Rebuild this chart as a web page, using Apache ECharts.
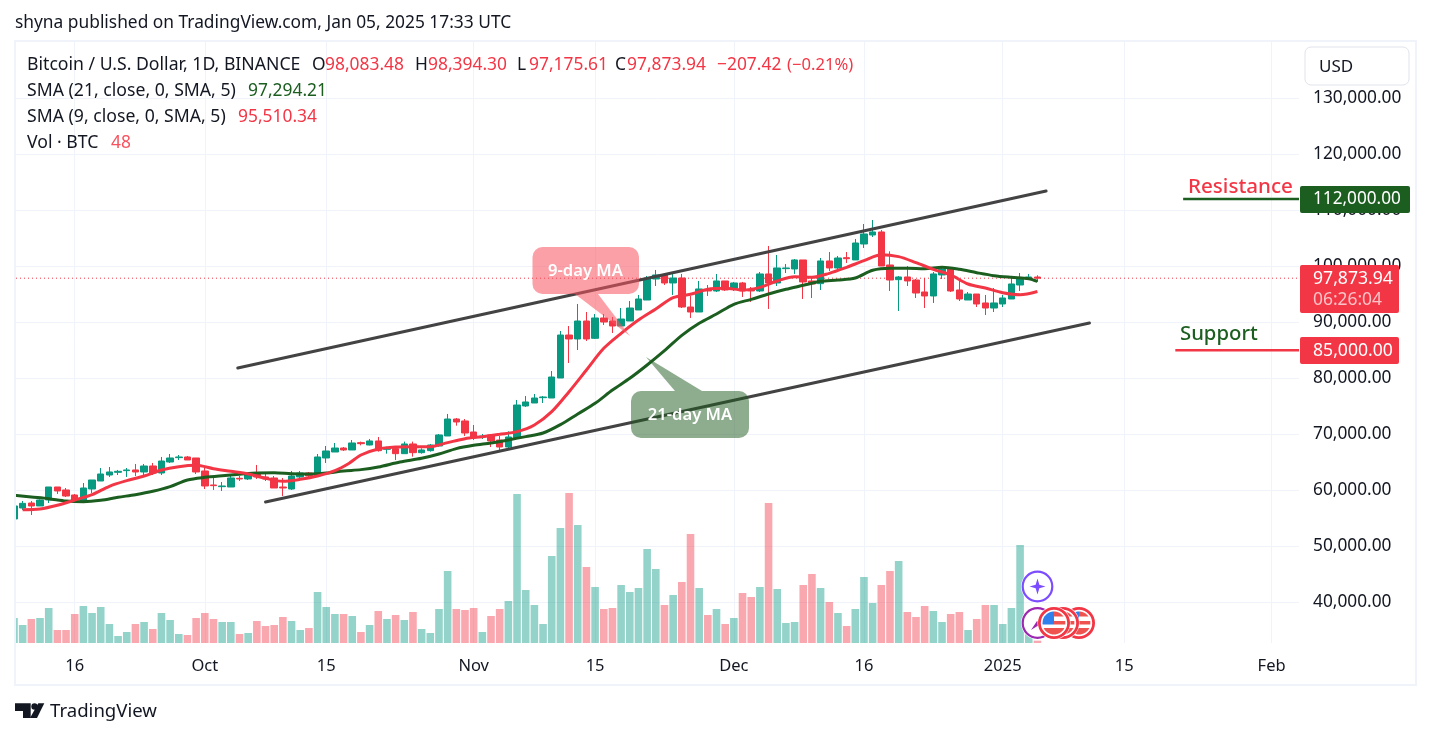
<!DOCTYPE html>
<html>
<head>
<meta charset="utf-8">
<style>html,body{margin:0;padding:0;background:#fff}#c{width:1431px;height:738px}</style>
<script src="https://cdn.jsdelivr.net/npm/echarts@6/dist/echarts.min.js"></script>
</head>
<body>
<div id="c"></div>
<script>
// One entry per trading day starting 2024-09-09: [open, close, low, high]
const candles = [
[54880,57200,54600,58100],[56840,57670,56480,58090],[57730,57200,55590,58090],[57200,58270,57200,58390],[58270,60590,57730,60590],[60590,59880,59340,60590],[60060,58980,58800,60410],
[59160,58090,57730,59340],[58090,60410,57730,61300],[60230,61840,59520,61840],[61660,62910,61660,63980],[62730,63270,62380,64160],[63210,63390,62730,63630],[63510,63630,62380,63980],
[63630,63270,62550,64700],[63270,64340,62730,64700],[64340,63090,62730,64880],[63090,65230,62730,65950],[65050,65770,64880,66480],[65830,65950,65410,66300],[65950,65410,65410,66130],[65770,63270,62910,65770],
[63450,60770,60230,63980],[60950,60830,60060,62550],[60650,60770,59880,61480],[60590,62200,60590,62550],[62140,62020,61660,62550],[62020,62910,61840,63090],[62910,62380,62020,64520],
[62380,62020,61660,63270],[62200,60410,60410,62550],[60590,60410,58980,62200],[60230,62550,60060,63450],[62380,63090,62200,63450],[63090,62550,62020,63270],[62550,65950,62550,66480],
[65770,67020,64880,67910],[66840,67550,66840,68450],[67550,67200,67020,67730],[67200,68450,67200,68980],[68510,68330,68030,68690],[68090,68810,68030,69160],[68810,67080,66900,69520],
[67320,67440,66540,67790],[67440,66540,65410,67790],[66540,68270,66540,68690],[68270,66720,66010,68690],[66720,67200,66540,67500],[67080,68090,66900,68270],[67910,69880,67790,70060],
[69700,72730,69700,73630],[72730,72200,71540,72910],[72380,70230,69700,72730],
[70410,69340,68980,71660],[69520,69700,69160,70060],[69880,68810,67730,70060],[68980,67730,67080,69700],[67730,69520,67560,70530],[69340,75230,69340,76130],[75060,75770,74880,76840],
[75590,76480,75590,77200],[76540,76660,75590,76840],[76480,80230,76480,81300],[80050,87730,80050,88450],[87730,87020,82730,89340],[87020,90230,85050,93270],[90230,87020,86660,91840],
[87140,90770,87020,91480],[90770,90050,89520,91480],[90230,89340,88090,90950],[89340,90590,89340,92550],[90230,92550,90230,93800],[92200,94160,92200,94880],[93980,97850,93980,98270],
[97730,98450,96480,99340],[98450,97020,96660,98630],[97020,97910,94880,98630],[97910,92730,92550,98630],[92730,91840,90770,94700],[91840,95950,91840,97380],[95890,95590,94700,96660],
[95590,97380,95410,98630],[97380,95770,95590,97380],
[96130,97020,95590,97200],[97020,95590,94520,97200],[95770,95590,93630,96300],[95590,98630,95410,98980],[98630,97020,92380,103630],[97020,99700,96480,102020],[99580,99700,98800,100410],
[99520,101130,98630,101300],[101130,97200,94160,101130],[97380,96840,94340,98090],[96900,100950,95770,101480],[100950,99700,99160,102550],[99700,101480,99160,101840],[101540,101360,100590,102550],
[101130,104160,101130,104880],[103980,105770,103270,107550],[105590,106130,105230,108270],[106130,100050,100050,106480],[100230,97550,95590,102670],[97610,98090,92020,98270],[98090,97380,96480,100050],
[97550,95230,94340,97730],[95410,94700,92550,97910],[94700,98630,93450,98980],[98450,99520,97730,99700],[99520,95590,95410,99880],[95770,94160,93800,97550],[93980,95050,93980,95410],
[95050,93270,92730,95050],[93450,92550,91300,94880],[92550,93450,91840,96130],
[93270,94340,92730,94880],[94160,96840,94160,97910],[96660,97910,95590,98800],[97730,98090,97550,98630],[98083.48,97873.94,97175.61,98394.30]
];
// Volume per day (same day order as candles)
const volumes = [
15000,10800,14400,15000,21000,7800,7800,17400,22200,18000,21600,11400,4200,6600,11400,12600,8400,18000,13800,5400,4800,15000,
18000,14400,12600,12600,5400,6000,13200,10200,10800,15600,13200,7800,9000,30600,21600,17400,17400,16200,6600,10800,19200,14400,16800,13800,18600,8400,6000,20400,43200,20400,19800,
21000,6600,16200,20400,25200,89400,31800,22800,11400,52200,69000,90000,70800,45600,33600,20400,21000,34800,30600,33000,56400,44400,22800,28800,36600,65400,33000,16800,20400,11400,
15000,30000,27600,33600,84000,32400,12000,12600,34800,41400,33000,24600,18000,10200,20400,39600,24000,34800,43200,49200,18600,15600,22200,19200,12600,17400,18600,7800,14400,22800,22800,
11400,21000,58800,9000,1400
];
// [day index, value]
const sma9 = [[1,56540],[3,56660],[5,57320],[7,58270],[9,59220],[11,60710],[13,61720],[15,62550],[17,63630],[19,64220],[21,64460],[23,63860],[25,63390],[27,62910],[29,62140],[31,61600],[33,61960],[35,62550],[37,63510],[38.6,64800],[40,66300],[42,67380],[44,67730],[46,67790],[48,67790],[50,68510],[52,69220],[54,69580],[56,70000],[58,70470],[60,71660],[62,74040],[64,77610],[66,81480],[68,85350],[70,88030],[72,90410],[74,92370],[76,94400],[78,95000],[80,95900],[82,96070],[84,95770],[86,96240],[88,97380],[90,98150],[92,98030],[94,98740],[96,99810],[98,101010],[100,102080],[102,101720],[104,100650],[106,99460],[108,98450],[110,96840],[112,96120],[114,95290],[116,94930],[118,95510.34]];
const sma21 = [[0,59100],[2,58800],[4,58510],[6,58090],[8,57970],[10,58210],[12,58750],[14,59220],[16,59820],[18,60650],[20,61840],[22,62320],[24,62610],[26,62850],[28,63090],[30,63150],[32,62970],[34,62910],[36,63090],[38,63450],[40,63690],[42,64160],[44.5,65050],[47,65710],[49,66480],[51,67440],[53,68030],[55,68450],[57,68980],[59,69580],[61,70230],[63,71720],[65,73630],[67,75530],[69,77910],[71,80000],[73,82380],[75,84930],[77,87670],[79,89820],[81,91480],[83,93210],[85,94100],[87,95050],[89,95890],[91,96600],[93,97320],[95,97550],[97,97910],[99,99280],[101,99640],[103,99640],[105,99580],[107,99810],[109,99460],[111,98860],[113,98330],[115,98030],[117,97790],[118,97294.21]];
const upperChannel = [[25.8,81840],[119,113450]];
const lowerChannel = [[29,57910],[124,89880]];
const lastPrice = 97873.94, resistance = 112000, support = 85000;
const yTicks = [40000,50000,60000,70000,80000,90000,100000,110000,120000,130000];
const xTickDays = [7,22,36,53,67,83,98,114,128,145];
const xTickLabels = ['16','Oct','15','Nov','15','Dec','16','2025','15','Feb'];

const UP='#089981', DOWN='#f23645', GREEN='#1b5e20', GRID='#f0f3fa', INK='#131722';
const FF='"Noto Sans"';
const ohlcData = candles.map((c,i)=>[i,c[0],c[1],c[2],c[3]]);
const volData = volumes.map((v,i)=>[i,v]);

const X_MIN=0.2306, X_MAX=148.16, Y_MIN=32732, Y_MAX=140050;

function T(x,y,text,fill,size,extra){
  return {type:'text',z:200,silent:true,style:Object.assign({x:x,y:y+1,text:text,fill:fill,font:(size||17.4)+'px '+FF,verticalAlign:'middle',align:'left'},extra||{})};
}
function arc(r,a0,a1){
  const pts=[];
  for(let k=0;k<=16;k++){const a=(a0+(a1-a0)*k/16)*Math.PI/180;pts.push([r*Math.cos(a),r*Math.sin(a)]);}
  return pts;
}
function flag(cx,cy,z){
  const R=11.5, red='#ef5350';
  const s=Math.asin(5/R)*180/Math.PI;
  return {type:'group',x:cx,y:cy,z:z,silent:true,children:[
    {type:'circle',z:z,shape:{cx:0,cy:0,r:16.5},style:{fill:'#fff'}},
    {type:'circle',z:z,shape:{cx:0,cy:0,r:14.6},style:{fill:'#fff',stroke:DOWN,lineWidth:2.8}},
    {type:'polygon',z:z,shape:{points:arc(R,s,180-s)},style:{fill:red}},
    {type:'rect',z:z,shape:{x:0,y:-2,width:11.3,height:3.5},style:{fill:red}},
    {type:'polygon',z:z,shape:{points:[[0,-6.5]].concat(arc(R,-90,-34))},style:{fill:red}},
    {type:'polygon',z:z,shape:{points:[[0,1.5]].concat(arc(R,173,270))},style:{fill:'#2f80ed'}}
  ]};
}
function star(cx,cy){
  const p=[];const o=8,i=2.6;
  for(let k=0;k<8;k++){const r=k%2?i:o;const a=k*Math.PI/4;p.push([cx+r*Math.sin(a),cy-r*Math.cos(a)]);}
  return p;
}

const graphics = [
  // left margin mask so the first, partly off-screen day is cut at the pane edge
  {type:'rect',z:100,silent:true,shape:{x:0,y:42,width:15.5,height:601},style:{fill:'#fff'}},
  // frame and header
  {type:'rect',z:101,silent:true,shape:{x:15,y:41,width:1401,height:644},style:{fill:'none',stroke:'#f0f3fa',lineWidth:2}},
  T(15,22,'shyna published on TradingView.com, Jan 05, 2025 17:33 UTC',INK,17.35),
  T(27,64,'Bitcoin / U.S. Dollar, 1D, BINANCE',INK,17.65),
  T(312,64,'O',INK),T(325,64,'98,083.48',DOWN),
  T(415,64,'H',INK),T(428,64,'98,394.30',DOWN),
  T(517,64,'L',INK),T(529,64,'97,175.61',DOWN),
  T(615,64,'C',INK),T(627,64,'97,873.94',DOWN),
  T(717,64,'−207.42',DOWN),T(787,64,'(−0.21%)',DOWN,16.6),
  T(27,90,'SMA (21, close, 0, SMA, 5)',INK,17.65),T(248,90,'97,294.21',GREEN),
  T(27,116,'SMA (9, close, 0, SMA, 5)',INK,17.65),T(238,116,'95,510.34',DOWN),
  T(27,142,'Vol · BTC',INK,17.65),T(111,142,'48','#f7525f'),
  // currency button
  {type:'rect',z:200,silent:true,shape:{x:1305,y:47,width:104,height:38,r:6},style:{fill:'#fff',stroke:'#e0e3eb',lineWidth:1}},
  T(1319,66,'USD',INK,17),
  // callouts
  {type:'polygon',z:150,silent:true,shape:{points:[[575,294],[598,294],[630,336]]},style:{fill:'rgba(247,82,95,0.55)'}},
  {type:'rect',z:150,silent:true,shape:{x:532.5,y:247,width:106.5,height:47,r:10},style:{fill:'rgba(247,82,95,0.55)'}},
  T(585.5,270,'9-day MA','#fff',17,{align:'center',font:'600 16.6px '+FF}),
  {type:'polygon',z:150,silent:true,shape:{points:[[646,357],[675,391],[702,391]]},style:{fill:'rgba(30,90,30,0.5)'}},
  {type:'rect',z:150,silent:true,shape:{x:631,y:391,width:118,height:47,r:10},style:{fill:'rgba(30,90,30,0.5)'}},
  T(690,414,'21-day MA','#fff',17,{align:'center',font:'600 16.6px '+FF}),
  // level annotations
  T(1188,186,'Resistance',DOWN,20.6,{font:'500 20.6px '+FF}),
  T(1180,333,'Support',GREEN,20.3,{font:'500 20.3px '+FF}),
  {type:'rect',z:190,silent:true,shape:{x:1300,y:186,width:110,height:27,r:2},style:{fill:GREEN}},
  T(1313,198.5,'112,000.00','#fff',17.2),
  {type:'rect',z:190,silent:true,shape:{x:1300,y:265,width:99,height:48,r:2},style:{fill:DOWN}},
  T(1313,278,'97,873.94','#fff',17.6),
  T(1313,299,'06:26:04','rgba(255,255,255,0.7)',17.4),
  {type:'rect',z:190,silent:true,shape:{x:1300,y:337,width:99,height:27,r:2},style:{fill:DOWN}},
  T(1313,349.5,'85,000.00','#fff',17.6),
  // logo
  {type:'polygon',z:200,silent:true,shape:{points:[[15,703.3],[30.7,703.3],[30.7,718],[23,718],[23,711],[15,711]]},style:{fill:INK}},
  {type:'circle',z:200,silent:true,shape:{cx:34.5,cy:706.5,r:3.2},style:{fill:INK}},
  {type:'polygon',z:200,silent:true,shape:{points:[[38.3,703.3],[44.3,703.3],[37,718],[30,718]]},style:{fill:INK}},
  T(50,711,'TradingView',INK,18.6),
  // event badges
  {type:'circle',z:160,silent:true,shape:{cx:1037.5,cy:586.5,r:16.5},style:{fill:'#fff'}},
  {type:'circle',z:161,silent:true,shape:{cx:1037.5,cy:586.5,r:14.8},style:{fill:'#fff',stroke:'#7c4dff',lineWidth:2.2}},
  {type:'polygon',z:161,silent:true,shape:{points:star(1037.5,586.5)},style:{fill:'#7c4dff'}},
  {type:'circle',z:160,silent:true,shape:{cx:1037.5,cy:623,r:16.5},style:{fill:'#fff'}},
  {type:'circle',z:161,silent:true,shape:{cx:1037.5,cy:623,r:14.8},style:{fill:'#fff',stroke:'#9c27b0',lineWidth:2.2}},
  {type:'polygon',z:161,silent:true,shape:{points:[[1031,630],[1037,621],[1040,623],[1045,616],[1043,627],[1039,625]]},style:{fill:'#9c27b0'}},
  flag(1079,623,162),flag(1063,623,163),flag(1054,623,164)
];

const chart = echarts.init(document.getElementById('c'),null,{renderer:'canvas'});
chart.setOption({
  animation:false,
  backgroundColor:'#ffffff',
  grid:[
    {left:16,right:132,top:42,bottom:95},
    {left:16,right:132,top:443,height:200}
  ],
  xAxis:[
    {type:'value',gridIndex:0,min:X_MIN,max:X_MAX,
     axisLine:{show:false},axisTick:{show:false,customValues:xTickDays},
     splitLine:{show:true,lineStyle:{color:GRID,width:1}},
     axisLabel:{show:true,customValues:xTickDays,margin:15,color:INK,fontFamily:FF,fontSize:16.5,
       formatter:v=>xTickLabels[xTickDays.indexOf(v)]}},
    {type:'value',gridIndex:1,min:X_MIN,max:X_MAX,show:false,splitLine:{show:false}}
  ],
  yAxis:[
    {type:'value',gridIndex:0,position:'right',min:Y_MIN,max:Y_MAX,scale:true,
     axisLine:{show:false},axisTick:{show:false,customValues:yTicks},
     splitLine:{show:true,lineStyle:{color:GRID,width:1}},
     axisLabel:{show:true,customValues:yTicks,margin:14,color:INK,fontFamily:FF,fontSize:17.3,padding:[0,0,3,0],
       formatter:v=>v.toLocaleString('en-US',{minimumFractionDigits:2,maximumFractionDigits:2})}},
    {type:'value',gridIndex:1,min:0,max:120000,show:false,splitLine:{show:false}}
  ],
  series:[
    {type:'bar',name:'Vol',xAxisIndex:1,yAxisIndex:1,data:volData,barWidth:7.6,z:1,
     itemStyle:{color:p=>{const c=candles[p.dataIndex];return c[1]>=c[0]?'rgba(8,153,129,0.43)':'rgba(242,54,69,0.43)';}}},
    {type:'candlestick',name:'BTCUSD',xAxisIndex:0,yAxisIndex:0,data:ohlcData,barWidth:7,z:3,clip:true,
     encode:{x:0,y:[1,2,3,4]},
     itemStyle:{color:UP,color0:DOWN,borderColor:UP,borderColor0:DOWN,borderWidth:1}},
    {type:'line',name:'SMA 21',data:sma21,smooth:0.3,showSymbol:false,z:4,lineStyle:{color:GREEN,width:3}},
    {type:'line',name:'SMA 9',data:sma9,smooth:0.3,showSymbol:false,z:4,lineStyle:{color:DOWN,width:3}},
    {type:'line',name:'Channel top',data:upperChannel,showSymbol:false,z:5,lineStyle:{color:'#434343',width:3,cap:'round'}},
    {type:'line',name:'Channel bottom',data:lowerChannel,showSymbol:false,z:5,lineStyle:{color:'#434343',width:3,cap:'round'}},
    {type:'line',name:'Last',data:[[X_MIN,lastPrice],[X_MAX,lastPrice]],showSymbol:false,z:2,lineStyle:{color:DOWN,width:1,type:[1,3]}},
    {type:'line',name:'Resistance',data:[[134.8,resistance],[X_MAX,resistance]],showSymbol:false,z:5,lineStyle:{color:GREEN,width:2.5}},
    {type:'line',name:'Support',data:[[133.9,support],[X_MAX,support]],showSymbol:false,z:5,lineStyle:{color:DOWN,width:2.5}}
  ],
  graphic:{elements:graphics}
});
</script>
</body>
</html>
